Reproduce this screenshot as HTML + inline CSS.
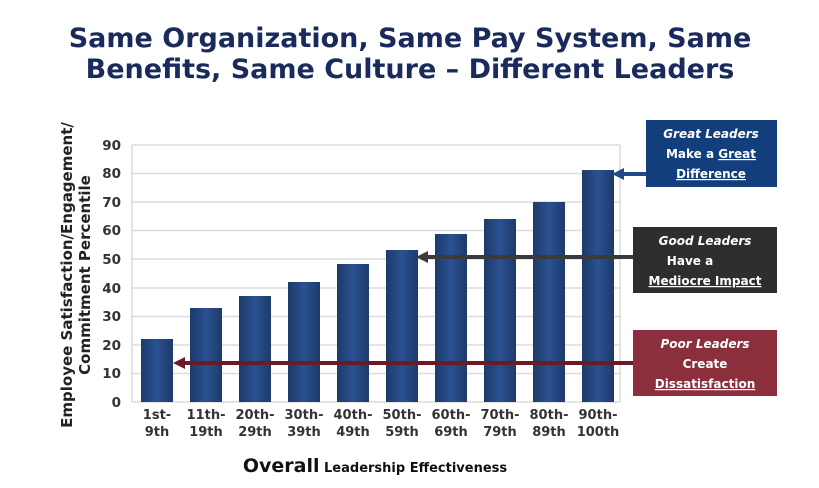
<!DOCTYPE html>
<html><head><style>
body{margin:0;background:#fff;}
svg text{font-family:"DejaVu Sans","Liberation Sans",sans-serif;font-weight:bold;}
</style></head><body>
<svg width="819" height="483" viewBox="0 0 819 483" xmlns="http://www.w3.org/2000/svg">
<defs>
<linearGradient id="bar" x1="0" x2="1" y1="0" y2="0">
<stop offset="0" stop-color="#1d3a6a"/><stop offset="0.5" stop-color="#2a5191"/><stop offset="1" stop-color="#1d3a6a"/>
</linearGradient>
</defs>
<rect width="819" height="483" fill="#fff"/>
<text x="410" y="47" text-anchor="middle" font-size="27" fill="#1b2a5c">Same Organization, Same Pay System, Same</text>
<text x="410" y="78" text-anchor="middle" font-size="27" fill="#1b2a5c">Benefits, Same Culture – Different Leaders</text>
<g stroke="#dcdcdc" stroke-width="1.5">
<line x1="132" x2="620" y1="145" y2="145"/><line x1="132" x2="620" y1="173.5" y2="173.5"/>
<line x1="132" x2="620" y1="202" y2="202"/><line x1="132" x2="620" y1="230.5" y2="230.5"/>
<line x1="132" x2="620" y1="259" y2="259"/><line x1="132" x2="620" y1="288" y2="288"/>
<line x1="132" x2="620" y1="316.5" y2="316.5"/><line x1="132" x2="620" y1="345" y2="345"/>
<line x1="132" x2="620" y1="373.5" y2="373.5"/><line x1="132" x2="620" y1="402" y2="402"/>
<line x1="132" x2="132" y1="145" y2="402"/><line x1="620" x2="620" y1="145" y2="402"/>
</g>
<g font-size="13.5" fill="#333" text-anchor="end">
<text x="121" y="150">90</text><text x="121" y="178">80</text><text x="121" y="207">70</text>
<text x="121" y="235">60</text><text x="121" y="264">50</text><text x="121" y="293">40</text>
<text x="121" y="321">30</text><text x="121" y="350">20</text><text x="121" y="378">10</text>
<text x="121" y="407">0</text>
</g>
<g fill="url(#bar)">
<rect x="141" y="339" width="32" height="63"/>
<rect x="190" y="308" width="32" height="94"/>
<rect x="239" y="296" width="32" height="106"/>
<rect x="288" y="282" width="32" height="120"/>
<rect x="337" y="264" width="32" height="138"/>
<rect x="386" y="250" width="32" height="152"/>
<rect x="435" y="234" width="32" height="168"/>
<rect x="484" y="219" width="32" height="183"/>
<rect x="533" y="202" width="32" height="200"/>
<rect x="582" y="170" width="32" height="232"/>
</g>
<g font-size="13" fill="#333" text-anchor="middle">
<text x="157" y="419">1st-</text><text x="157" y="436">9th</text>
<text x="206" y="419">11th-</text><text x="206" y="436">19th</text>
<text x="255" y="419">20th-</text><text x="255" y="436">29th</text>
<text x="304" y="419">30th-</text><text x="304" y="436">39th</text>
<text x="353" y="419">40th-</text><text x="353" y="436">49th</text>
<text x="402" y="419">50th-</text><text x="402" y="436">59th</text>
<text x="451" y="419">60th-</text><text x="451" y="436">69th</text>
<text x="500" y="419">70th-</text><text x="500" y="436">79th</text>
<text x="549" y="419">80th-</text><text x="549" y="436">89th</text>
<text x="598" y="419">90th-</text><text x="598" y="436">100th</text>
</g>
<text x="375" y="472" text-anchor="middle" fill="#111"><tspan font-size="19">Overall</tspan><tspan font-size="13"> Leadership Effectiveness</tspan></text>
<text transform="translate(72,275) rotate(-90)" text-anchor="middle" font-size="15" fill="#222">Employee Satisfaction/Engagement/</text>
<text transform="translate(90,275) rotate(-90)" text-anchor="middle" font-size="15" fill="#222">Commitment Percentile</text>
<line x1="646" y1="174" x2="622" y2="174" stroke="#1f4a85" stroke-width="4"/>
<polygon points="612,174 624,168 624,180" fill="#1f4a85"/>
<line x1="633" y1="257" x2="426" y2="257" stroke="#3a3a3a" stroke-width="4"/>
<polygon points="416,257 428,251 428,263" fill="#3a3a3a"/>
<line x1="633" y1="363" x2="183" y2="363" stroke="#6b1a26" stroke-width="4"/>
<polygon points="173,363 185,357 185,369" fill="#6b1a26"/>
<rect x="646" y="120" width="131" height="67" fill="#123f7c"/>
<rect x="633" y="227" width="144" height="66" fill="#2e2e2e"/>
<rect x="633" y="330" width="144" height="66" fill="#8c2f3c"/>
<g font-size="12" fill="#fff" text-anchor="middle">
<text x="711" y="138" font-style="italic">Great Leaders</text>
<text x="711" y="158">Make a <tspan text-decoration="underline">Great</tspan></text>
<text x="711" y="178" text-decoration="underline">Difference</text>
<text x="705" y="245" font-style="italic">Good Leaders</text>
<text x="690" y="265">Have a</text>
<text x="705" y="285" text-decoration="underline">Mediocre Impact</text>
<text x="705" y="348" font-style="italic">Poor Leaders</text>
<text x="705" y="368">Create</text>
<text x="705" y="388" text-decoration="underline">Dissatisfaction</text>
</g>
</svg>
</body></html>
